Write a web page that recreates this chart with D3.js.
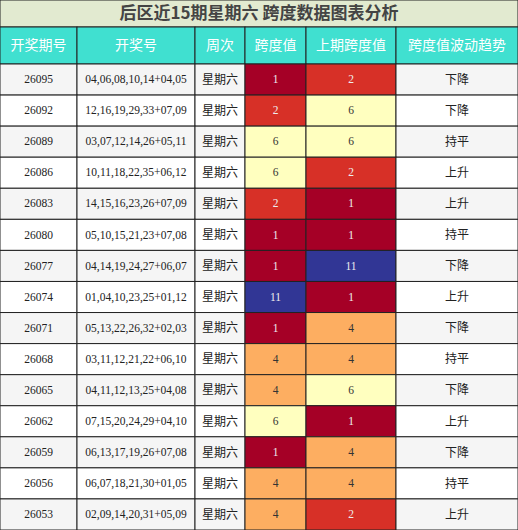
<!DOCTYPE html>
<html><head><meta charset="utf-8">
<script src="https://cdn.jsdelivr.net/npm/d3@7.9.0/dist/d3.min.js"></script>
<style>body{margin:0;background:#fff}</style>
</head><body><svg id="chart" width="518" height="530"></svg>
<script>
const title = '后区近15期星期六 跨度数据图表分析';
const headers = ['开奖期号', '开奖号', '周次', '跨度值', '上期跨度值', '跨度值波动趋势'];
const issues = ['26095','26092','26089','26086','26083','26080','26077','26074','26071','26068','26065','26062','26059','26056','26053'];
const draws = ['04,06,08,10,14+04,05','12,16,19,29,33+07,09','03,07,12,14,26+05,11','10,11,18,22,35+06,12','14,15,16,23,26+07,09','05,10,15,21,23+07,08','04,14,19,24,27+06,07','01,04,10,23,25+01,12','05,13,22,26,32+02,03','03,11,12,21,22+06,10','04,11,12,13,25+04,08','07,15,20,24,29+04,10','06,13,17,19,26+07,08','06,07,18,21,30+01,05','02,09,14,20,31+05,09'];
const spans = [1,2,6,6,2,1,1,11,1,4,4,6,1,4,4];
const prevSpans = [2,6,6,2,1,1,11,1,4,4,6,1,4,4,2];
const trends = ['下降','下降','持平','上升','上升','持平','下降','上升','下降','持平','下降','上升','下降','持平','上升'];

const W = 518, H = 530;
const colEdges = [0, 77, 195, 245, 306, 396, 518];
const titleH = 27, headH = 37;
const svg = d3.select('#chart');
const font = '"Noto Sans CJK SC", "Liberation Serif", serif';

const y = d3.scaleBand().domain(d3.range(issues.length)).range([titleH + headH, H]);
const spanColor = d3.scaleOrdinal().domain([1, 2, 4, 6, 11])
  .range(['#a50026', '#d73027', '#fdae61', '#ffffbf', '#313695']);
const lightText = new Set([1, 2, 11]);

// title
svg.append('rect').attr('x', 0).attr('y', 0).attr('width', W).attr('height', titleH)
  .attr('fill', '#e2ead0').attr('stroke', '#222');
svg.append('text').attr('x', W / 2).attr('y', titleH / 2 + 1).attr('text-anchor', 'middle')
  .attr('dominant-baseline', 'middle').attr('font-family', font).attr('font-weight', 'bold')
  .attr('font-size', 17).attr('fill', '#444').text(title);

// header
headers.forEach((h, i) => {
  const x0 = colEdges[i], x1 = colEdges[i + 1];
  svg.append('rect').attr('x', x0).attr('y', titleH).attr('width', x1 - x0).attr('height', headH)
    .attr('fill', '#40e0d0').attr('stroke', '#222');
  svg.append('text').attr('x', (x0 + x1) / 2).attr('y', titleH + headH / 2 + 1)
    .attr('text-anchor', 'middle').attr('dominant-baseline', 'middle')
    .attr('font-family', font).attr('font-size', 14).attr('fill', '#fff').text(h);
});

// rows
issues.forEach((iss, r) => {
  const cells = [iss, draws[r], '星期六', spans[r], prevSpans[r], trends[r]];
  const rowBg = r % 2 === 0 ? '#f5f5f5' : '#ffffff';
  cells.forEach((v, c) => {
    const x0 = colEdges[c], x1 = colEdges[c + 1];
    let fill = rowBg, tc = '#222';
    if (c === 3 || c === 4) { fill = spanColor(v); tc = lightText.has(v) ? '#eee' : '#333'; }
    svg.append('rect').attr('x', x0).attr('y', y(r)).attr('width', x1 - x0).attr('height', y.bandwidth())
      .attr('fill', fill).attr('stroke', '#222');
    svg.append('text').attr('x', (x0 + x1) / 2).attr('y', y(r) + y.bandwidth() / 2 + 1)
      .attr('text-anchor', 'middle').attr('dominant-baseline', 'middle')
      .attr('font-family', c === 2 || c === 5 ? font : '"Liberation Serif", serif')
      .attr('font-size', c === 2 || c === 5 ? 12 : 11.5).attr('fill', tc).text(v);
  });
});
</script></body></html>
